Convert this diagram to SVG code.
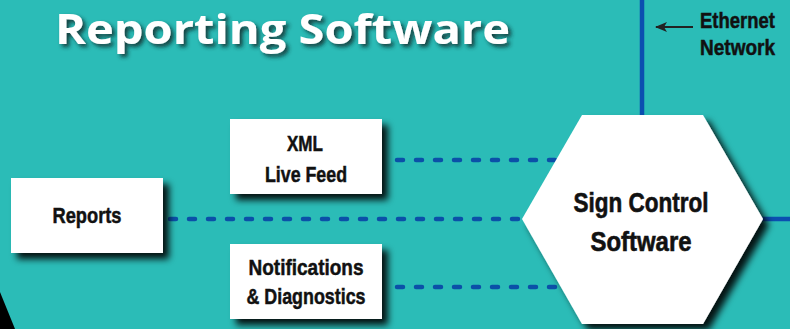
<svg xmlns="http://www.w3.org/2000/svg" width="790" height="329" viewBox="0 0 790 329">
  <defs>
    <filter id="shadow" x="-20%" y="-20%" width="150%" height="150%">
      <feDropShadow dx="6" dy="6" stdDeviation="3.5" flood-color="#000" flood-opacity="0.9"/>
    </filter>
    <filter id="tshadow" x="-10%" y="-30%" width="120%" height="160%">
      <feDropShadow dx="3" dy="3" stdDeviation="2" flood-color="#0a2a2a" flood-opacity="0.85"/>
    </filter>
    <marker id="arrow" markerWidth="12" markerHeight="10" refX="11" refY="5" orient="auto" markerUnits="userSpaceOnUse">
      <path d="M0,0 L12,5 L0,10 L3,5 Z" fill="#222"/>
    </marker>
  </defs>
  <style>
    .box { fill: #ffffff; filter: url(#shadow); }
    .lbl { font-family: "Liberation Sans", Arial, sans-serif; font-weight: bold; font-size: 22.5px; fill: #111; stroke: #111; stroke-width: 0.5; text-anchor: middle; }
    .hexlbl { font-size: 27px; stroke-width: 0.6; }
    .dash { stroke: #0b50a8; stroke-width: 4.5; stroke-dasharray: 6 13; stroke-linecap: round; fill: none; }
    .solid { stroke: #0b4fb0; stroke-width: 4.5; fill: none; }
    .title { font-family: "Open Sans", "Liberation Sans", sans-serif; font-weight: bold; font-size: 41px; fill: #fff; filter: url(#tshadow); }
  </style>
  <rect width="790" height="329" fill="#2bbcb7"/>
  <polygon points="0,292 15,329 0,329" fill="#000"/>
  <text class="title" x="55" y="44" textLength="455" lengthAdjust="spacingAndGlyphs">Reporting Software</text>

  <g id="connectors">
    <line class="solid" x1="642" y1="0" x2="642" y2="118"/>
    <line class="solid" x1="760" y1="219" x2="790" y2="219"/>
    <line class="dash" x1="170" y1="219" x2="530" y2="219"/>
    <line class="dash" x1="397" y1="160" x2="562" y2="160"/>
    <line class="dash" x1="397" y1="287" x2="562" y2="287"/>
    <line x1="693" y1="27" x2="656" y2="27" stroke="#222" stroke-width="2" marker-end="url(#arrow)"/>
  </g>

  <g id="ethernet-label">
    <text class="lbl" x="737.5" y="28" textLength="75" lengthAdjust="spacingAndGlyphs">Ethernet</text>
    <text class="lbl" x="737.5" y="55" textLength="75" lengthAdjust="spacingAndGlyphs">Network</text>
  </g>

  <g id="reports">
    <rect class="box" x="11" y="178" width="152" height="75"/>
    <text class="lbl" x="87" y="223" textLength="69" lengthAdjust="spacingAndGlyphs">Reports</text>
  </g>

  <g id="xml-live-feed">
    <rect class="box" x="230" y="119" width="152" height="75"/>
    <text class="lbl" x="305" y="151" textLength="36" lengthAdjust="spacingAndGlyphs">XML</text>
    <text class="lbl" x="306" y="182" textLength="82" lengthAdjust="spacingAndGlyphs">Live Feed</text>
  </g>

  <g id="notifications">
    <rect class="box" x="230" y="244" width="152" height="75"/>
    <text class="lbl" x="306" y="275" textLength="115" lengthAdjust="spacingAndGlyphs">Notifications</text>
    <text class="lbl" x="306" y="304" textLength="119" lengthAdjust="spacingAndGlyphs">&amp; Diagnostics</text>
  </g>

  <g id="sign-control-software">
    <polygon class="box" points="582,115 703,115 763,219 703,324 582,324 522,219"/>
    <text class="lbl hexlbl" x="641" y="212" textLength="135" lengthAdjust="spacingAndGlyphs">Sign Control</text>
    <text class="lbl hexlbl" x="641" y="251" textLength="101" lengthAdjust="spacingAndGlyphs">Software</text>
  </g>
</svg>
